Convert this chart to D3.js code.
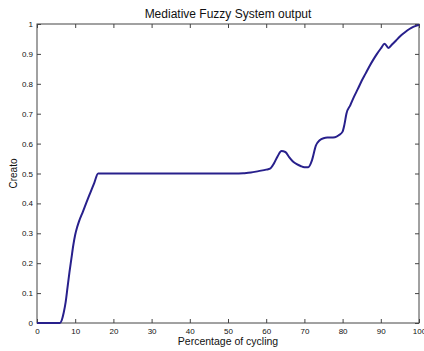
<!DOCTYPE html>
<html>
<head>
<meta charset="utf-8">
<script src="https://cdn.jsdelivr.net/npm/d3@7"></script>
<style>
  html, body { margin: 0; padding: 0; background: #fff; }
  svg { display: block; }
  text { font-family: "Liberation Sans", Arial, sans-serif; fill: #111; }
</style>
</head>
<body>
<svg id="chart" width="424" height="351"></svg>
<script>
// Percentage of cycling (x) and the fuzzy system output (y)
const cycling = [0, 6, 6.5, 7, 7.5, 8, 8.5, 9, 9.5, 10, 10.5, 11, 12, 13, 14, 15, 16, 20, 30, 40, 50, 52, 54, 56, 58, 60, 61, 62, 63, 64, 65, 66, 67, 68, 69, 70, 71, 72, 73, 74, 75, 76, 77, 78, 79, 80, 80.5, 81, 82, 83, 84, 85, 86, 87, 88, 89, 90, 91, 92, 93, 94, 95, 96, 97, 98, 99, 100];
const creato = [0, 0, 0.01, 0.035, 0.07, 0.12, 0.17, 0.215, 0.26, 0.295, 0.32, 0.34, 0.372, 0.405, 0.437, 0.469, 0.5, 0.5, 0.5, 0.5, 0.5, 0.5, 0.501, 0.503, 0.508, 0.513, 0.516, 0.533, 0.558, 0.575, 0.572, 0.555, 0.54, 0.531, 0.525, 0.521, 0.521, 0.545, 0.593, 0.611, 0.618, 0.62, 0.62, 0.621, 0.628, 0.64, 0.665, 0.7, 0.728, 0.757, 0.783, 0.81, 0.834, 0.858, 0.88, 0.9, 0.918, 0.934, 0.92, 0.932, 0.945, 0.958, 0.969, 0.979, 0.987, 0.993, 0.997];

const xTicks = [0, 10, 20, 30, 40, 50, 60, 70, 80, 90, 100];
const yTicks = [0, 0.1, 0.2, 0.3, 0.4, 0.5, 0.6, 0.7, 0.8, 0.9, 1];

const titleText = "Mediative Fuzzy System output";
const xLabel = "Percentage of cycling";
const yLabel = "Creato";

const mLeft = 37, mRight = 419, mTop = 24, mBottom = 323;

const svg = d3.select("#chart");
const x = d3.scaleLinear().domain([0, 100]).range([mLeft, mRight]);
const y = d3.scaleLinear().domain([0, 1]).range([mBottom, mTop]);

const axisColor = "#444";
const tickLen = 4;

function styleAxis(g) {
  g.select(".domain").remove();
  g.selectAll(".tick line").attr("stroke", axisColor).attr("stroke-width", 1);
  g.selectAll(".tick text").attr("font-size", 8).attr("fill", "#111");
}

// bottom axis (ticks point inward)
svg.append("g")
  .attr("transform", `translate(0,${mBottom})`)
  .call(d3.axisBottom(x).tickValues(xTicks).tickFormat(d3.format("d"))
    .tickSizeInner(-tickLen).tickSizeOuter(0).tickPadding(5))
  .call(styleAxis);

// top axis: ticks only
svg.append("g")
  .attr("transform", `translate(0,${mTop})`)
  .call(d3.axisTop(x).tickValues(xTicks).tickFormat("")
    .tickSizeInner(-tickLen).tickSizeOuter(0))
  .call(styleAxis);

// left axis
svg.append("g")
  .attr("transform", `translate(${mLeft},0)`)
  .call(d3.axisLeft(y).tickValues(yTicks).tickFormat(d => d === 0 || d === 1 ? d3.format("d")(d) : d3.format(".1f")(d))
    .tickSizeInner(-tickLen).tickSizeOuter(0).tickPadding(4))
  .call(styleAxis);

// right axis: ticks only
svg.append("g")
  .attr("transform", `translate(${mRight},0)`)
  .call(d3.axisRight(y).tickValues(yTicks).tickFormat("")
    .tickSizeInner(-tickLen).tickSizeOuter(0))
  .call(styleAxis);

// plot box
svg.append("rect")
  .attr("x", mLeft).attr("y", mTop)
  .attr("width", mRight - mLeft).attr("height", mBottom - mTop)
  .attr("fill", "none").attr("stroke", axisColor).attr("stroke-width", 1);

// output curve
const pts = cycling.map((c, i) => [c, creato[i]]);
svg.append("path")
  .datum(pts)
  .attr("fill", "none")
  .attr("stroke", "#28208c")
  .attr("stroke-width", 2)
  .attr("stroke-linejoin", "round")
  .attr("d", d3.line().x(d => x(d[0])).y(d => y(d[1])).curve(d3.curveMonotoneX));

// titles
svg.append("text")
  .attr("x", (mLeft + mRight) / 2).attr("y", 17.5)
  .attr("text-anchor", "middle").attr("font-size", 12)
  .text(titleText);

svg.append("text")
  .attr("x", (mLeft + mRight) / 2).attr("y", 345)
  .attr("text-anchor", "middle").attr("font-size", 10.5)
  .text(xLabel);

svg.append("text")
  .attr("transform", `translate(17,${(mTop + mBottom) / 2}) rotate(-90)`)
  .attr("text-anchor", "middle").attr("font-size", 10)
  .text(yLabel);
</script>
</body>
</html>
